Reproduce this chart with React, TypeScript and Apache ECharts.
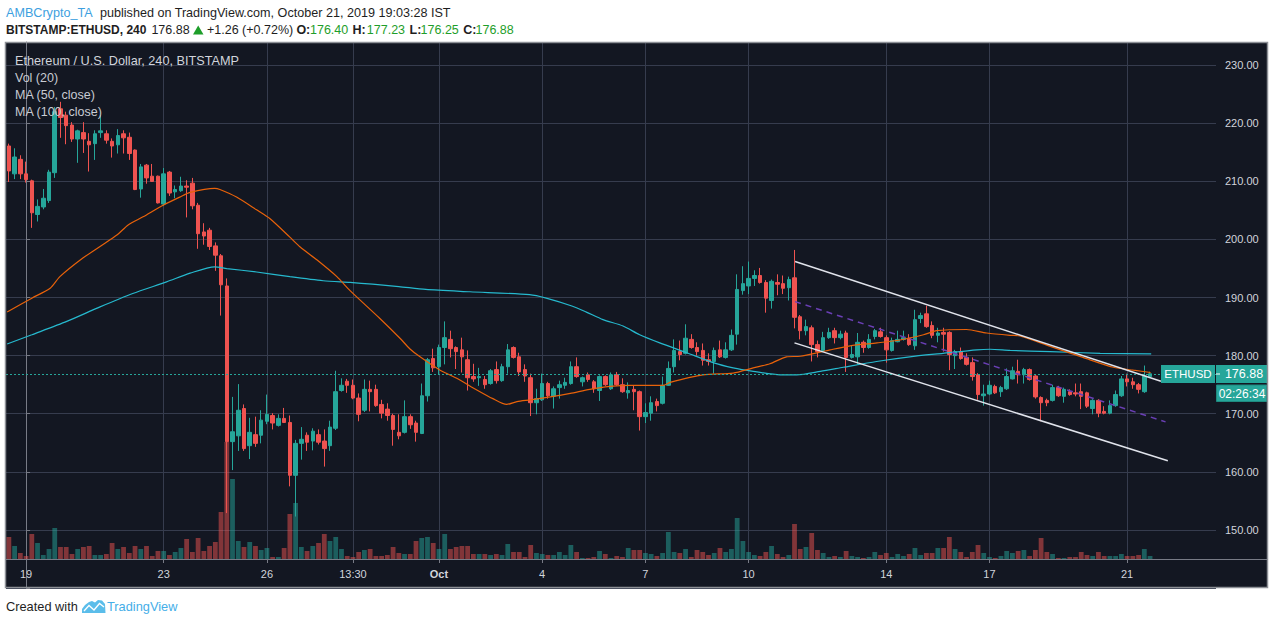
import React, { useEffect, useRef } from "react";
import * as echarts from "echarts";

// ---- candles: relative 4h-bar index -3 .. 196 (index 0 = first bar of Sep 19) ----
const FIRST_REL = -3;
const LAST_REL = 207;

const opens = [
  216.1, 211.3, 213.8, 211.3, 210.1, 204.3, 205.6, 206.7, 211.5, 222.5,
  221.4, 219.7, 217.3, 218.4, 216.9, 216.5, 218.4, 218.2, 216.9, 216.3,
  218.2, 217.6, 215.4, 208.7, 212.8, 210.9, 210.9, 206.1, 211.6, 208.2,
  208.4, 209.2, 209.7, 205.9, 201.3, 201.6, 198.9, 197.2, 192.0, 165.2,
  166.2, 170.9, 164.5, 166.4, 166.3, 168.7, 169.7, 168.0, 169.2, 168.5,
  159.4, 164.9, 166.3, 165.3, 166.4, 165.3, 164.5, 167.5, 174.0, 175.6,
  174.9, 172.7, 170.6, 174.2, 174.2, 171.6, 170.8, 169.7, 166.8, 166.8,
  169.5, 168.4, 166.6, 173.1, 179.5, 178.1, 181.4, 182.8, 181.4, 181.0,
  179.3, 176.4, 176.2, 175.9, 175.2, 177.6, 175.7, 178.1, 181.4, 179.8,
  177.6, 176.2, 171.9, 172.4, 175.2, 173.0, 174.5, 174.9, 175.2, 178.1,
  175.5, 176.7, 175.5, 174.0, 176.4, 174.3, 176.7, 175.0, 173.6, 174.2,
  173.8, 169.5, 170.1, 172.1, 171.8, 174.9, 178.1, 180.7, 180.4, 182.8,
  181.4, 180.9, 179.3, 179.0, 181.0, 179.7, 181.0, 183.7, 191.2, 192.0,
  193.3, 193.8, 192.6, 189.5, 192.6, 192.4, 191.7, 193.4, 186.7, 184.3,
  184.8, 181.9, 180.9, 183.1, 184.3, 183.1, 183.9, 179.7, 179.8, 182.3,
  181.4, 183.3, 184.1, 183.1, 180.9, 182.4, 182.8, 183.0, 181.7, 186.4,
  187.2, 185.2, 183.5, 184.0, 184.0, 180.0, 180.7, 179.7, 178.8, 176.7,
  173.1, 173.4, 174.7, 173.8, 174.3, 176.0, 177.3, 176.7, 177.6, 176.5,
  172.8, 172.3, 172.3, 174.5, 173.0, 173.8, 173.6, 173.8, 173.6, 170.9,
  172.3, 170.4, 170.1, 171.4, 173.1, 176.0, 175.5, 175.0, 173.8, 176.4,
];
const highs = [
  216.5, 215.7, 214.5, 213.4, 210.3, 206.9, 208.7, 212.0, 222.8, 223.7,
  222.0, 220.2, 218.9, 220.2, 218.3, 218.8, 221.4, 218.8, 217.4, 219.0,
  218.8, 218.4, 215.5, 213.0, 213.0, 213.0, 211.0, 212.3, 211.8, 209.3,
  210.8, 210.2, 210.6, 206.3, 202.8, 202.0, 199.5, 197.5, 193.3, 172.9,
  175.1, 171.6, 169.3, 169.5, 170.6, 173.3, 170.1, 169.9, 171.0, 169.7,
  165.5, 167.7, 166.8, 167.5, 167.3, 167.3, 168.8, 177.4, 176.1, 176.0,
  175.9, 173.5, 175.9, 175.7, 175.0, 172.4, 171.8, 170.0, 169.9, 172.3,
  169.9, 168.8, 175.2, 179.6, 181.2, 181.9, 185.9, 184.3, 181.6, 183.1,
  180.9, 178.6, 177.9, 176.5, 177.7, 179.0, 178.6, 182.0, 181.6, 180.5,
  178.5, 176.9, 174.3, 176.9, 175.5, 174.7, 175.7, 176.2, 179.0, 179.7,
  176.4, 177.1, 175.8, 176.6, 176.6, 177.1, 177.2, 176.1, 175.4, 174.9,
  174.0, 171.8, 173.0, 172.6, 176.4, 179.0, 182.8, 182.6, 185.4, 183.7,
  182.3, 182.1, 180.4, 181.4, 182.6, 182.3, 184.5, 194.0, 195.4, 196.2,
  194.7, 195.1, 193.0, 193.1, 194.0, 193.8, 193.6, 198.2, 187.0, 186.2,
  185.2, 182.6, 184.1, 184.8, 184.8, 184.3, 184.3, 181.7, 183.9, 182.6,
  183.7, 184.6, 184.8, 183.5, 183.1, 184.3, 184.3, 183.7, 187.9, 187.4,
  188.6, 185.9, 184.8, 184.8, 184.2, 181.0, 181.4, 180.4, 179.7, 177.0,
  175.0, 175.7, 175.0, 174.8, 177.8, 178.1, 179.3, 177.9, 177.8, 176.7,
  173.0, 172.6, 175.0, 174.8, 174.5, 174.2, 175.2, 175.2, 173.8, 172.5,
  172.5, 171.3, 172.3, 174.0, 176.5, 176.9, 176.2, 175.3, 178.3, 177.23,
];
const lows = [
  209.9, 210.4, 210.4, 209.8, 202.0, 203.1, 205.2, 206.3, 210.6, 217.5,
  216.4, 216.8, 213.2, 214.9, 211.7, 213.7, 217.5, 216.5, 214.1, 214.8,
  214.8, 213.7, 208.5, 207.2, 209.6, 209.9, 206.2, 205.8, 207.5, 207.1,
  208.2, 203.8, 205.2, 198.4, 199.1, 198.2, 194.6, 186.9, 152.9, 160.3,
  163.6, 163.6, 162.2, 164.3, 164.9, 168.2, 167.3, 167.8, 168.4, 157.5,
  152.3, 162.1, 163.6, 163.7, 164.7, 160.9, 163.6, 167.2, 173.8, 173.6,
  172.5, 168.7, 170.3, 170.4, 171.2, 169.2, 168.8, 164.5, 165.6, 166.6,
  167.4, 165.2, 166.5, 172.1, 177.2, 176.7, 178.5, 179.7, 177.7, 177.1,
  174.0, 175.5, 174.8, 174.3, 175.0, 175.2, 175.5, 176.9, 179.5, 176.5,
  175.5, 169.6, 169.9, 172.2, 172.6, 170.9, 172.6, 174.3, 175.0, 176.2,
  174.7, 175.5, 173.6, 172.2, 174.8, 174.1, 174.8, 173.6, 172.6, 170.6,
  167.1, 168.4, 168.8, 170.4, 171.6, 174.8, 177.1, 179.2, 180.2, 181.2,
  180.0, 178.3, 178.3, 176.9, 179.6, 179.5, 180.8, 181.9, 190.5, 190.6,
  192.0, 192.4, 187.4, 188.1, 190.4, 190.6, 189.5, 184.7, 182.8, 183.5,
  179.0, 179.7, 180.7, 182.9, 182.1, 182.8, 177.2, 179.5, 178.5, 180.5,
  181.2, 182.8, 183.1, 178.8, 180.7, 182.3, 182.6, 181.7, 181.0, 185.6,
  184.8, 183.0, 182.3, 180.7, 177.5, 177.7, 179.3, 178.3, 175.7, 172.4,
  171.4, 173.2, 173.4, 172.9, 174.1, 175.9, 175.2, 175.2, 175.7, 172.6,
  168.7, 171.3, 172.1, 172.9, 171.9, 173.1, 173.0, 170.8, 171.0, 169.9,
  169.4, 169.9, 169.9, 171.2, 172.9, 174.7, 174.3, 173.5, 173.6, 176.25,
];
const closes = [
  211.8, 214.2, 211.3, 210.3, 204.6, 205.7, 207.1, 211.6, 222.0, 221.0,
  219.6, 217.3, 218.7, 217.3, 216.3, 218.2, 218.7, 217.1, 216.1, 217.9,
  217.5, 214.8, 208.6, 212.5, 210.6, 210.0, 206.3, 211.3, 208.0, 208.6,
  209.2, 209.0, 205.8, 201.0, 200.6, 198.8, 197.3, 192.2, 165.2, 166.9,
  170.6, 164.0, 166.8, 164.9, 168.9, 169.9, 168.4, 169.2, 168.5, 159.4,
  164.9, 165.6, 165.1, 167.0, 165.1, 164.0, 167.7, 173.8, 174.9, 174.9,
  172.7, 169.9, 174.2, 173.8, 171.4, 170.1, 169.7, 167.3, 166.2, 169.5,
  168.1, 166.8, 173.1, 179.3, 177.9, 181.4, 183.1, 181.2, 180.7, 179.8,
  176.2, 176.0, 176.4, 175.0, 177.4, 175.7, 178.1, 181.0, 179.7, 177.2,
  176.5, 171.9, 172.6, 175.2, 173.1, 174.3, 175.0, 175.4, 178.1, 176.4,
  176.2, 175.9, 174.3, 176.4, 175.0, 176.7, 175.0, 173.8, 174.0, 173.8,
  169.5, 170.2, 171.9, 171.4, 174.9, 177.8, 180.9, 180.2, 183.0, 181.4,
  180.7, 179.2, 179.0, 180.9, 179.8, 181.0, 183.5, 191.4, 192.4, 193.3,
  193.8, 192.6, 189.9, 192.8, 192.3, 191.6, 193.1, 186.6, 184.3, 185.0,
  181.9, 180.7, 183.1, 184.0, 183.1, 183.7, 179.7, 180.2, 182.3, 181.4,
  182.8, 184.3, 183.3, 181.0, 182.6, 182.8, 183.1, 181.9, 186.2, 186.9,
  185.0, 183.5, 183.9, 183.7, 180.2, 180.7, 179.5, 178.5, 176.4, 173.3,
  173.4, 174.9, 173.6, 174.5, 176.4, 177.4, 176.7, 177.6, 175.9, 172.9,
  171.9, 171.9, 174.5, 173.1, 174.2, 173.3, 173.4, 173.0, 171.3, 172.3,
  170.1, 170.1, 171.4, 173.3, 176.0, 175.5, 175.0, 174.2, 176.5, 176.88,
];
// volume (relative units)
const volumes = [
  22, 13, 6, 3, 25, 16, 4, 10, 31, 12,
  12, 5, 10, 12, 13, 4, 4, 5, 16, 10,
  12, 6, 13, 10, 13, 3, 8, 8, 4, 7,
  11, 20, 7, 21, 8, 13, 17, 47, 117, 80,
  18, 12, 17, 13, 9, 11, 2, 2, 11, 45,
  56, 12, 8, 13, 16, 25, 18, 22, 10, 3,
  2, 7, 9, 10, 3, 3, 4, 12, 6, 5,
  5, 18, 21, 22, 16, 10, 25, 10, 12, 13,
  13, 5, 5, 5, 4, 5, 4, 15, 7, 7,
  2, 14, 6, 5, 4, 4, 7, 4, 14, 7,
  1, 1, 2, 8, 5, 1, 3, 2, 11, 9,
  9, 6, 5, 3, 6, 27, 7, 6, 10, 2,
  9, 7, 4, 6, 11, 7, 10, 41, 18, 7,
  4, 3, 7, 13, 5, 2, 4, 35, 10, 12,
  26, 9, 6, 2, 3, 2, 8, 3, 2, 1,
  2, 7, 4, 6, 2, 5, 3, 5, 11, 4,
  6, 6, 11, 11, 22, 10, 7, 2, 7, 14,
  6, 2, 1, 3, 8, 6, 8, 9, 3, 9,
  21, 7, 5, 1, 1, 2, 2, 7, 4, 3,
  7, 3, 3, 3, 5, 3, 3, 4, 10, 3,
];

// time axis labels (relative bar index -> text)
const timeLabelRel = [0, 24, 42, 57, 72, 90, 108, 126, 150, 168, 192];
const timeLabelText = ["19", "23", "26", "13:30", "Oct", "4", "7", "10", "14", "17", "21"];

// moving averages: [relative bar index, price]
const ma50Points = [
  [-3.3, 187.5], [1.0, 189.9], [4.2, 191.6], [5.9, 193.6], [9.9, 196.8], [12.9, 198.8],
  [15.9, 200.8], [17.8, 202.5], [20.4, 203.9], [23.9, 205.9], [26.8, 207.3], [28.6, 208.1],
  [32.9, 208.8], [33.8, 208.6], [36.7, 207.3], [40.2, 205.1], [42.5, 203.6], [46.0, 200.4],
  [47.8, 198.7], [50.7, 196.5], [54.2, 193.6], [56.5, 191.2], [61.7, 186.4], [65.2, 183.0],
  [66.9, 181.2], [68.7, 179.8], [72.2, 177.5], [75.1, 176.1], [78.6, 174.1], [81.4, 172.6],
  [83.8, 171.6], [85.6, 172.1], [88.0, 172.4], [91.4, 172.9], [94.9, 173.5], [98.3, 174.2],
  [101.8, 174.7], [105.3, 174.9], [111.1, 174.9], [112.3, 175.4], [118.0, 176.7], [123.3, 177.0],
  [126.8, 177.9], [129.7, 178.6], [132.6, 179.8], [135.0, 179.9], [138.5, 180.6], [140.2, 181.0],
  [143.7, 181.7], [148.4, 182.2], [152.4, 182.7], [156.5, 183.6], [158.8, 184.3], [164.0, 184.5],
  [167.5, 183.9], [171.6, 183.5], [173.3, 183.4], [178.6, 181.6], [184.3, 179.7], [189.6, 178.0],
  [193.1, 177.5], [196.1, 177.1],
];
const ma100Points = [
  [-3.3, 182.0], [1.0, 183.6], [7.1, 185.9], [12.9, 188.4], [18.6, 190.7], [24.5, 192.7],
  [28.6, 194.2], [32.9, 195.3], [35.0, 195.0], [40.2, 194.4], [46.0, 193.6], [51.8, 192.9],
  [56.5, 192.6], [60.4, 192.3], [65.0, 191.9], [69.7, 191.4], [77.4, 191.0],
  [87.8, 190.5], [90.7, 189.9], [95.3, 188.5], [97.7, 187.5], [100.6, 186.2], [104.1, 185.1],
  [107.0, 183.6], [110.5, 182.2], [115.2, 180.5], [119.8, 178.8], [123.3, 177.9], [126.8, 177.3],
  [131.5, 176.7], [134.4, 176.7], [138.5, 177.3], [142.5, 178.0], [148.3, 179.0], [154.1, 179.8],
  [159.9, 180.4], [165.8, 181.0], [168.1, 181.1], [171.6, 180.9], [178.6, 180.7], [187.3, 180.4],
  [196.2, 180.3],
];

// drawn channel (trend lines)
const channelUpper = [[134.1, 196.2], [197.9, 175.6]];
const channelLower = [[134.0, 182.2], [199.1, 161.9]];
const channelMid = [[134.1, 189.3], [198.7, 168.6]];

const lastPrice = 176.88;

const UP = "#26a69a";
const DOWN = "#ef5350";
const FONT = "Liberation Sans";

export default function App() {
  const ref = useRef<HTMLDivElement>(null);

  useEffect(() => {
    document.body.style.margin = "0";
    const chart = echarts.init(ref.current!, null, { renderer: "svg" });

    const categories: string[] = [];
    for (let r = FIRST_REL; r <= LAST_REL; r++) categories.push(String(r));
    const labelMap: Record<string, string> = {};
    timeLabelRel.forEach((r, i) => (labelMap[String(r)] = timeLabelText[i]));
    const isLabel = (_i: number, v: string) => labelMap[v] !== undefined;

    const candleData = opens.map((o, i) => [o, closes[i], lows[i], highs[i]]);
    const volData = volumes.map((v, i) => ({
      value: v,
      itemStyle: { color: closes[i] >= opens[i] ? "rgba(38,166,154,0.5)" : "rgba(239,83,80,0.5)" },
    }));

    const txt = (text: string, x: number, y: number, fill: string, size: number, weight = "normal", z = 50) => ({
      type: "text",
      z,
      style: { text, x, y, fill, fontSize: size, fontFamily: FONT, fontWeight: weight, verticalAlign: "middle", align: "left" },
    });

    const green = "#1e9e2a";
    const dark = "#1e1e1e";

    const option: any = {
      animation: false,
      textStyle: { fontFamily: FONT },
      grid: [
        { left: 6, right: 58, top: 42, bottom: 36 },
        { left: 6, right: 58, top: 42, bottom: 65 },
      ],
      xAxis: [
        { type: "category", gridIndex: 0, data: categories, show: false },
        {
          type: "category",
          gridIndex: 1,
          data: categories,
          axisLine: { show: true, lineStyle: { color: "#787b86" } },
          axisTick: { show: true, alignWithLabel: true, interval: isLabel, length: 4, lineStyle: { color: "#787b86" } },
          axisLabel: {
            interval: isLabel,
            margin: 9,
            color: "#d1d4dc",
            fontSize: 11,
            formatter: (v: string) => (labelMap[v] === "Oct" ? "{b|Oct}" : labelMap[v] || ""),
            rich: { b: { fontWeight: "bold", color: "#d1d4dc", fontSize: 11 } },
          },
          splitLine: { show: true, interval: isLabel, alignWithLabel: true, lineStyle: { color: "#363c4e", width: 1 } },
        },
        { type: "value", gridIndex: 0, min: FIRST_REL - 0.5, max: LAST_REL + 0.5, show: false },
      ],
      yAxis: [
        {
          type: "value",
          gridIndex: 0,
          position: "right",
          min: 140,
          max: 234,
          interval: 10,
          axisLine: { show: true, lineStyle: { color: "#787b86" } },
          axisTick: { show: true, length: 4, lineStyle: { color: "#787b86" } },
          axisLabel: {
            margin: 9,
            color: "#d1d4dc",
            fontSize: 11,
            formatter: (v: number) => (v >= 150 && v <= 230 && v % 10 === 0 ? v.toFixed(2) : ""),
          },
          splitLine: { show: true, lineStyle: { color: "#363c4e", width: 1 } },
        },
        { type: "value", gridIndex: 1, min: 0, max: 517, show: false },
      ],
      series: [
        {
          type: "bar",
          xAxisIndex: 1,
          yAxisIndex: 1,
          data: volData,
          barWidth: 4.8,
          z: 1,
        },
        {
          type: "candlestick",
          xAxisIndex: 0,
          yAxisIndex: 0,
          data: candleData,
          barWidth: 4,
          z: 3,
          itemStyle: { color: UP, color0: DOWN, borderColor: UP, borderColor0: DOWN, borderWidth: 1 },
          markLine: {
            silent: true,
            symbol: ["none", "none"],
            label: { show: false },
            lineStyle: { color: UP, type: [2, 2], width: 1 },
            data: [{ yAxis: lastPrice }],
          },
        },
        {
          type: "line",
          xAxisIndex: 2,
          yAxisIndex: 0,
          data: ma100Points,
          showSymbol: false,
          symbol: "none",
          smooth: 0.25,
          lineStyle: { color: "#26b9ce", width: 1.2 },
          z: 4,
        },
        {
          type: "line",
          xAxisIndex: 2,
          yAxisIndex: 0,
          data: ma50Points,
          showSymbol: false,
          symbol: "none",
          smooth: 0.25,
          lineStyle: { color: "#e8620a", width: 1.2 },
          z: 4,
        },
        {
          type: "line",
          xAxisIndex: 2,
          yAxisIndex: 0,
          data: channelUpper,
          symbol: "none",
          lineStyle: { color: "#e0e3eb", width: 1.5 },
          z: 5,
        },
        {
          type: "line",
          xAxisIndex: 2,
          yAxisIndex: 0,
          data: channelLower,
          symbol: "none",
          lineStyle: { color: "#e0e3eb", width: 1.5 },
          z: 5,
        },
        {
          type: "line",
          xAxisIndex: 2,
          yAxisIndex: 0,
          data: channelMid,
          symbol: "none",
          lineStyle: { color: "#6a3fb5", width: 1.5, type: [6, 5] },
          z: 5,
        },
      ],
      graphic: [
        { type: "rect", z: -10, shape: { x: 5, y: 42, width: 1263, height: 546 }, style: { fill: "#131722" } },
        { type: "line", z: 60, shape: { x1: 1216, y1: 559.5, x2: 1268, y2: 559.5 }, style: { stroke: "#787b86", lineWidth: 1 } },
        { type: "rect", z: 100, shape: { x: 5.5, y: 42.5, width: 1262, height: 545 }, style: { fill: "none", stroke: "#8d9096", lineWidth: 1.5 } },
        // header
        txt("AMBCrypto_TA", 6, 12.5, "#3d9fe0", 12.6),
        txt("published on TradingView.com, October 21, 2019 19:03:28 IST", 100, 12.5, dark, 12.6),
        txt("BITSTAMP:ETHUSD, 240", 6, 30, dark, 12, "bold"),
        txt("176.88", 151.4, 30, dark, 12.5),
        { type: "polygon", z: 50, shape: { points: [[193, 34.5], [198.2, 25.5], [203.5, 34.5]] }, style: { fill: green } },
        txt("+1.26 (+0.72%)", 207, 30, dark, 12.5),
        txt("O:", 296.4, 30, dark, 12.5, "bold"),
        txt("176.40", 310, 30, green, 12.5),
        txt("H:", 352.6, 30, dark, 12.5, "bold"),
        txt("177.23", 366.8, 30, green, 12.5),
        txt("L:", 409.5, 30, dark, 12.5, "bold"),
        txt("176.25", 420.6, 30, green, 12.5),
        txt("C:", 463.2, 30, dark, 12.5, "bold"),
        txt("176.88", 475.5, 30, green, 12.5),
        // pane legend
        txt("Ethereum / U.S. Dollar, 240, BITSTAMP", 15, 61, "#d1d4dc", 12.7),
        txt("Vol (20)", 15, 77.5, "#c8cbd3", 12.5),
        txt("MA (50, close)", 15, 95, "#c8cbd3", 12.5),
        txt("MA (100, close)", 15, 112, "#c8cbd3", 12.5),
        // last price tags
        { type: "rect", z: 60, shape: { x: 1161, y: 365, width: 54, height: 18 }, style: { fill: UP } },
        { type: "text", z: 61, style: { text: "ETHUSD", x: 1188, y: 374, fill: "#ffffff", fontSize: 11.5, fontFamily: FONT, align: "center", verticalAlign: "middle" } },
        { type: "rect", z: 60, shape: { x: 1216, y: 365, width: 51, height: 18 }, style: { fill: UP } },
        { type: "line", z: 61, shape: { x1: 1216, y1: 374, x2: 1220, y2: 374 }, style: { stroke: "#ffffff", lineWidth: 1 } },
        { type: "text", z: 61, style: { text: "176.88", x: 1244, y: 374, fill: "#ffffff", fontSize: 12.5, fontFamily: FONT, align: "center", verticalAlign: "middle" } },
        { type: "rect", z: 60, shape: { x: 1216.5, y: 385, width: 50, height: 16.5 }, style: { fill: UP, stroke: "#1f8a80", lineWidth: 1 } },
        { type: "text", z: 61, style: { text: "02:26:34", x: 1242, y: 393.5, fill: "#ffffff", fontSize: 12, fontFamily: FONT, align: "center", verticalAlign: "middle" } },
        // footer
        txt("Created with", 6, 606, "#1e1e1e", 12.8),
        {
          type: "polygon",
          z: 50,
          shape: { points: [[82, 613], [82, 609], [85, 605], [89, 602], [92, 601], [95, 602.5], [98, 600], [102, 600.5], [105, 604], [105.5, 613]] },
          style: { fill: "#5bbdea" },
        },
        { type: "polyline", z: 51, shape: { points: [[84, 611], [89, 605.5], [94, 610], [99.5, 603.5], [104, 607]] }, style: { stroke: "#ffffff", lineWidth: 1.3, fill: "none" } },
        txt("TradingView", 107, 606, "#45aee8", 12.8),
      ],
    };

    chart.setOption(option);
    return () => chart.dispose();
  }, []);

  return <div ref={ref} style={{ width: 1274, height: 624, background: "#ffffff" }} />;
}
